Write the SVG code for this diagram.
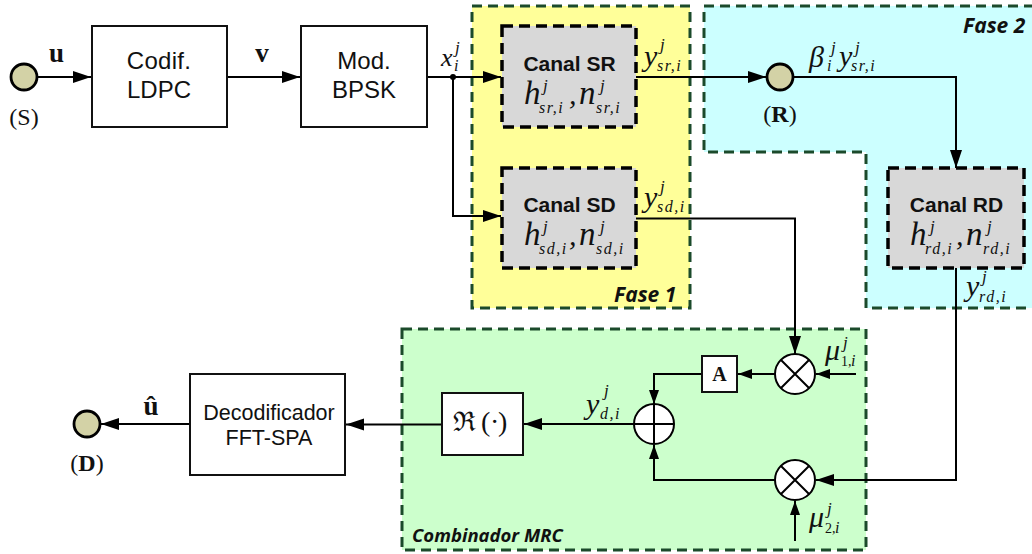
<svg xmlns="http://www.w3.org/2000/svg" width="1032" height="554" viewBox="0 0 1032 554">
<style>
.reg{stroke:#1b4a2b;stroke-width:3;stroke-dasharray:10 6}
.box{fill:#fff;stroke:#111;stroke-width:2}
.ch{fill:#d8d8d8;stroke:#000;stroke-width:3.5;stroke-dasharray:11 6}
.term{fill:#d3d2a6;stroke:#000;stroke-width:2.8}
.op{fill:#fff;stroke:#000;stroke-width:2}
.oline{fill:none;stroke:#000;stroke-width:2}
.c{fill:none;stroke:#000;stroke-width:2;marker-end:url(#ah)}
.cs{fill:none;stroke:#000;stroke-width:2;marker-end:url(#as)}
text{fill:#111}
.s{font-family:"Liberation Sans",Arial,sans-serif;font-size:24px;text-anchor:middle}
.d{font-family:"Liberation Sans",Arial,sans-serif;font-size:21.500px;text-anchor:middle}
.b{font-family:"Liberation Sans",Arial,sans-serif;font-size:21px;font-weight:bold;text-anchor:middle}
.f{font-family:"Open Sans","Liberation Sans",sans-serif;font-size:21px;font-weight:bold;font-style:italic}
.f2{font-family:"Open Sans","Liberation Sans",sans-serif;font-size:18.500px;font-weight:bold;font-style:italic}
.t{font-family:"Liberation Serif","Times New Roman",serif;font-size:24px;text-anchor:middle}
.bb{font-family:"Liberation Serif","Times New Roman",serif;font-size:27px;font-weight:bold;text-anchor:middle}
.m{font-family:"Liberation Serif","Times New Roman",serif;font-style:italic;font-size:30px}
.m tspan.h{font-size:33px}
.m tspan.u{font-size:17px}
.m tspan.l{font-size:16px;letter-spacing:1.500px}
.m tspan.n{font-size:14px;font-style:normal}
.m tspan.x{font-size:26px}
</style>
<defs>
<marker id="ah" markerUnits="userSpaceOnUse" markerWidth="20" markerHeight="14" refX="18" refY="7" orient="auto"><path d="M0 1 L18 7 L0 13 Z" fill="#000"/></marker>
<marker id="as" markerUnits="userSpaceOnUse" markerWidth="15" markerHeight="12" refX="14" refY="6" orient="auto"><path d="M0 1 L14 6 L0 11 Z" fill="#000"/></marker>
</defs>

<g id="region-fase1"><rect x="472" y="6" width="218" height="302" fill="#ffff99" class="reg"/><text class="f" x="614" y="302">Fase 1</text></g>
<g id="region-fase2"><path d="M1034 6 H704 V152 H866 V308 H1034" fill="#ccffff" class="reg"/><text class="f" x="963" y="33">Fase 2</text></g>
<g id="region-combinador"><rect x="402" y="329" width="464" height="221" fill="#ccffcc" class="reg"/><text class="f2" x="412" y="542">Combinador MRC</text></g>

<g id="connectors">
<path class="c" d="M37 77 H91"/>
<path class="c" d="M227 77 H300"/>
<path class="c" d="M427 77 H501"/>
<path class="c" d="M453 77 V216 H501"/>
<circle cx="453" cy="77" r="3" fill="#000"/>
<path class="c" d="M636 77 H766"/>
<path class="c" d="M794 77 H956 V168"/>
<path class="c" d="M636 218.500 H795 V354"/>
<path class="c" d="M956 268 V480 H816"/>
<path class="cs" d="M856 374 H816"/>
<path class="cs" d="M795 541 V501"/>
<path class="cs" d="M775 374 H738"/>
<path class="cs" d="M702 374 H654 V404"/>
<path class="cs" d="M775 480 H654 V445"/>
<path class="c" d="M634 424 H524"/>
<path class="c" d="M442 424.500 H346"/>
<path class="c" d="M190 424 H101"/>
</g>

<g id="node-s"><circle class="term" cx="24" cy="77" r="13"/><text class="t" x="24" y="125">(S)</text></g>
<g id="node-codif"><rect class="box" x="92" y="26" width="135" height="101"/><text class="s" x="159" y="69" letter-spacing="0.300">Codif.</text><text class="s" x="159" y="98">LDPC</text></g>
<g id="node-mod"><rect class="box" x="301" y="26" width="126" height="101"/><text class="s" x="364" y="69">Mod.</text><text class="s" x="364" y="98">BPSK</text></g>
<g id="node-canal-sr"><rect class="ch" x="502" y="26" width="134" height="101"/><text class="b" x="569.500" y="71">Canal SR</text>
<text class="m"><tspan class="h" x="524" y="104">h</tspan><tspan class="u" x="543" y="91">j</tspan><tspan class="l" x="539" y="113">sr,i</tspan><tspan x="569" y="104">,</tspan><tspan class="h" x="579" y="104">n</tspan><tspan class="u" x="600" y="91">j</tspan><tspan class="l" x="596" y="113">sr,i</tspan></text></g>
<g id="node-canal-sd"><rect class="ch" x="502" y="168" width="134" height="100"/><text class="b" x="569.500" y="212">Canal SD</text>
<text class="m"><tspan class="h" x="524" y="245">h</tspan><tspan class="u" x="543" y="232">j</tspan><tspan class="l" x="539" y="254">sd,i</tspan><tspan x="569" y="245">,</tspan><tspan class="h" x="579" y="245">n</tspan><tspan class="u" x="600" y="232">j</tspan><tspan class="l" x="596" y="254">sd,i</tspan></text></g>
<g id="node-canal-rd"><rect class="ch" x="888" y="168" width="136" height="100"/><text class="b" x="956.500" y="212">Canal RD</text>
<text class="m"><tspan class="h" x="910" y="245">h</tspan><tspan class="u" x="930" y="232">j</tspan><tspan class="l" x="925" y="254">rd,i</tspan><tspan x="956" y="245">,</tspan><tspan class="h" x="966" y="245">n</tspan><tspan class="u" x="987" y="232">j</tspan><tspan class="l" x="983" y="254">rd,i</tspan></text></g>
<g id="node-r"><circle class="term" cx="780" cy="77" r="13"/><text class="t" x="780" y="122">(<tspan font-weight="bold">R</tspan>)</text></g>
<g id="node-d"><circle class="term" cx="87" cy="424" r="13"/><text class="t" x="87" y="471">(<tspan font-weight="bold">D</tspan>)</text></g>
<g id="node-dec"><rect class="box" x="190" y="374" width="155" height="101"/><text class="d" x="269" y="420">Decodificador</text><text class="d" x="269" y="445">FFT-SPA</text></g>
<g id="node-re"><rect class="box" x="442" y="393" width="81" height="62"/><text y="431" font-family="Liberation Serif,serif" font-size="28"><tspan x="453" font-family="DejaVu Serif,serif" font-size="27">ℜ</tspan><tspan x="481">(</tspan><tspan x="490">·</tspan><tspan x="498">)</tspan></text></g>
<g id="node-a"><rect class="box" x="702" y="356" width="35" height="36"/><text x="719.500" y="381" font-family="Liberation Serif,serif" font-size="20" font-weight="bold" text-anchor="middle">A</text></g>
<g id="node-m1"><circle class="op" cx="795" cy="374" r="20"/><path class="oline" d="M781 360 L809 388 M809 360 L781 388"/></g>
<g id="node-m2"><circle class="op" cx="795" cy="480" r="20"/><path class="oline" d="M781 466 L809 494 M809 466 L781 494"/></g>
<g id="node-sum"><circle class="op" cx="654" cy="424" r="20"/><path class="oline" d="M634 424 H674 M654 404 V444"/></g>

<g id="labels">
<text class="bb" x="56.500" y="62">u</text>
<text class="bb" x="262" y="62">v</text>
<text class="bb" x="151" y="415">û</text>
<text class="m"><tspan class="x" x="441" y="66">x</tspan><tspan class="u" x="455" y="53">j</tspan><tspan class="l" x="454" y="71">i</tspan></text>
<text class="m"><tspan x="644" y="66">y</tspan><tspan class="u" x="660" y="50">j</tspan><tspan class="l" x="657" y="71">sr,i</tspan></text>
<text class="m"><tspan x="644" y="207">y</tspan><tspan class="u" x="660" y="192">j</tspan><tspan class="l" x="657" y="212">sd,i</tspan></text>
<text class="m"><tspan x="809" y="67">β</tspan><tspan class="u" x="831" y="53">j</tspan><tspan class="l" x="827" y="71">i</tspan><tspan x="839" y="66">y</tspan><tspan class="u" x="855" y="53">j</tspan><tspan class="l" x="851" y="71">sr,i</tspan></text>
<text class="m"><tspan x="966" y="296">y</tspan><tspan class="u" x="982" y="282">j</tspan><tspan class="l" x="979" y="302">rd,i</tspan></text>
<text class="m"><tspan x="586" y="414">y</tspan><tspan class="u" x="604" y="396">j</tspan><tspan class="l" x="600" y="419">d,i</tspan></text>
<text class="m"><tspan x="825" y="360">μ</tspan><tspan class="u" x="843" y="348">j</tspan><tspan class="n" x="841" y="366">1,</tspan><tspan class="l" x="851" y="366">i</tspan></text>
<text class="m"><tspan x="809" y="527">μ</tspan><tspan class="u" x="827" y="514">j</tspan><tspan class="n" x="825" y="533">2,</tspan><tspan class="l" x="835" y="533">i</tspan></text>
</g>
</svg>
